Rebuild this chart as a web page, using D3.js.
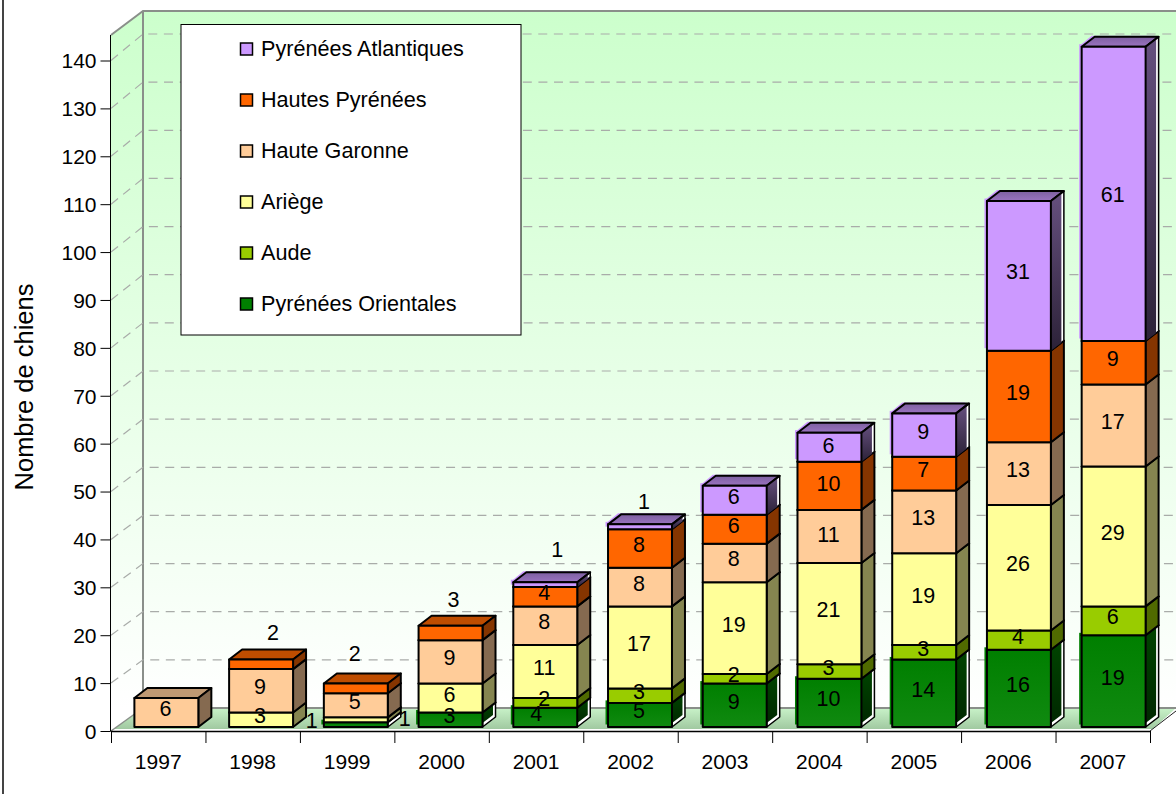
<!DOCTYPE html>
<html><head><meta charset="utf-8">
<script src="https://cdn.jsdelivr.net/npm/d3@7"></script>
<style>html,body{margin:0;padding:0;background:#fff}svg{display:block}text{font-family:"Liberation Sans",Arial,sans-serif;fill:#000}</style>
</head><body><svg id="c" width="1176" height="794"></svg>
<script>
const years = ["1997","1998","1999","2000","2001","2002","2003","2004","2005","2006","2007"];
const seriesNames = ["Pyrénées Orientales","Aude","Ariège","Haute Garonne","Hautes Pyrénées","Pyrénées Atlantiques"];
const seriesColors = ["#008000","#99cc00","#ffff99","#ffcc99","#ff6600","#cc99ff"];
const pyreneesOrientales = [0,0,1,3,4,5,9,10,14,16,19];
const aude               = [0,0,0,0,2,3,2,3,3,4,6];
const ariege             = [0,3,1,6,11,17,19,21,19,26,29];
const hauteGaronne       = [6,9,5,9,8,8,8,11,13,13,17];
const hautesPyrenees     = [0,2,2,3,4,8,6,10,7,19,9];
const pyreneesAtlantiques= [0,0,0,0,1,1,6,6,9,31,61];
const seriesValues = [pyreneesOrientales,aude,ariege,hauteGaronne,hautesPyrenees,pyreneesAtlantiques];
const yTicks = d3.range(0,141,10);
// manual displacement of data labels: [year, series index, dx, dy]
const labelNudges = [["1998",4,13,-28],["1999",0,-43,0],["1999",2,50,3],["1999",4,0,-31],["2000",4,4,-29],
 ["2001",0,-8,0],["2001",5,13,-31],["2002",5,5,-21],["2007",5,0,5],["2004",3,0,2],["2004",4,0,2],["2004",5,0,2]];

const svg = d3.select("#c");
const defs = svg.append("defs");
function grad(id,x1,y1,x2,y2,stops,units){
  const g=defs.append("linearGradient").attr("id",id).attr("x1",x1).attr("y1",y1).attr("x2",x2).attr("y2",y2);
  if(units)g.attr("gradientUnits",units);
  stops.forEach(s=>g.append("stop").attr("offset",s[0]).attr("stop-color",s[1]));
}
grad("wall",0,11,0,708,[[0,"#ccffcc"],[1,"#ffffff"]],"userSpaceOnUse");
grad("floor",0,0,0,1,[[0,"#c8f2c8"],[1,"#9dc59d"]]);
grad("sidePA",0,0,0,1,[[0,"#66507f"],[1,"#2c2238"]]);
grad("topPA",0,0,0,1,[[0,"#7d60a0"],[1,"#9a73c0"]]);
grad("sidePO",0,0,0,1,[[0,"#004400"],[1,"#002800"]]);
grad("frontPO",0,0,0,1,[[0,"#007f00"],[1,"#108a10"]]);

const yAxisScale = d3.scaleLinear().domain([0,140]).range([731,60.5]);
const yBack = d3.scaleLinear().domain([0,140]).range([708,34]);
const yBar = d3.scaleLinear().domain([0,140]).range([727,51.5]);
const x = d3.scaleBand().domain(years).range([111,1150]);
const xBar = d3.scaleBand().domain(years).range([111,1153]).paddingInner(0.325).paddingOuter(0.1625);
const bw = xBar.bandwidth(), barShift = 8, dX = 13, dY = -10;
const line = d3.line();

// walls and floor
svg.append("path").attr("d",line([[111,35],[143,11],[1180,11],[1180,708],[143,708],[111,731]]))
  .attr("fill","url(#wall)");
svg.append("path").attr("d",line([[111,731],[143,708],[1180,708],[1176,708],[1153,729],[114,729]]))
  .attr("fill","url(#floor)");
svg.append("path").attr("d",line([[111,35],[143,11],[1176,11]])).attr("fill","none").attr("stroke","#8a8f8a").attr("stroke-width",2);
svg.append("path").attr("d",line([[143,11],[143,708],[1176,708]])).attr("fill","none").attr("stroke","#8a8f8a").attr("stroke-width",2);
svg.append("path").attr("d",line([[111,731],[143,708]])).attr("fill","none").attr("stroke","#8a8f8a").attr("stroke-width",1.5);
svg.append("path").attr("d",line([[1150,731],[1176,711]])).attr("fill","none").attr("stroke","#222").attr("stroke-width",1);

// gridlines
const gridVals = yTicks.filter(v=>v>0);
svg.append("g").selectAll("path").data(gridVals).join("path")
  .attr("d",v=>line([[111,yAxisScale(v)],[143,yBack(v)],[1176,yBack(v)]]))
  .attr("fill","none").attr("stroke","#a9aca9").attr("stroke-width",1.2).attr("stroke-dasharray","9 6.6");

// outer frame line
svg.append("line").attr("x1",3).attr("x2",3).attr("y1",0).attr("y2",794).attr("stroke","#444").attr("stroke-width",2);

// axes
const axL = svg.append("g").attr("transform","translate(110.5,0)")
  .call(d3.axisLeft(yAxisScale).tickValues(yTicks).tickSize(10).tickPadding(4).tickSizeOuter(0));
axL.select(".domain").attr("d",line([[0,yAxisScale(0)+0.5],[0,35]])).attr("stroke","#000");
axL.selectAll("text").style("font-size","21px").attr("dy","0.35em");
const axB = svg.append("g").attr("transform","translate(0,731.5)")
  .call(d3.axisBottom(x).tickSize(0).tickPadding(26));
axB.select(".domain").attr("d",line([[111,0],[1150,0]])).attr("stroke","#000").attr("stroke-width",1.4);
axB.selectAll("text").style("font-size","21px").attr("dy","0.55em");
const tickX = d3.scaleLinear().domain([0,years.length]).range([111,1150]);
svg.append("g").selectAll("line").data(d3.range(years.length+1)).join("line")
  .attr("x1",i=>tickX(i)+0.5).attr("x2",i=>tickX(i)+0.5)
  .attr("y1",731).attr("y2",743).attr("stroke","#000").attr("stroke-width",1);
svg.append("text").attr("transform","translate(24,387) rotate(-90)").attr("text-anchor","middle")
  .attr("dy","0.35em").style("font-size","25.5px").text("Nombre de chiens");

// legend
const lg = svg.append("g");
lg.append("rect").attr("x",181).attr("y",24.5).attr("width",340).attr("height",310.5).attr("fill","#fff").attr("stroke","#000").attr("stroke-width",1);
const legendY = d3.scalePoint().domain(d3.range(6)).range([49,304]);
const li = lg.selectAll("g").data(seriesNames.map((n,i)=>i).reverse()).join("g")
  .attr("transform",(s,i)=>`translate(0,${legendY(i)})`);
li.append("rect").attr("x",240.5).attr("y",-6).attr("width",12).attr("height",12)
  .attr("fill",s=>seriesColors[s]).attr("stroke","#000").attr("stroke-width",1.5);
li.append("text").attr("x",261).attr("y",6.5).style("font-size","21.6px").text(s=>seriesNames[s]);

// bars
const shade=(c,k)=>{const r=d3.rgb(c);return d3.rgb(r.r*k,r.g*k,r.b*k).formatHex();};
const marks = [];
years.forEach((yr,i)=>{
  let acc=0;
  seriesValues.forEach((vals,s)=>{
    const v=vals[i]; if(!v)return;
    marks.push({yr,s,v,base:acc,top:acc+v}); acc+=v;
  });
});
const barG = svg.append("g").selectAll("g").data(marks).join("g")
  .attr("stroke-linejoin","round");
barG.each(function(d){
  const g=d3.select(this), c=seriesColors[d.s];
  const x0=xBar(d.yr)+barShift, x1=x0+bw, y0=yBar(d.base), y1=yBar(d.top);
  const isPO=d.s===0, isPA=d.s===5;
  if(isPO||isPA){ // offset coloured sliver on the left of the gradient faces
    g.append("rect").attr("x",x0-2.5).attr("y",y1-2.5).attr("width",5).attr("height",y0-y1).attr("fill",c);
  }
  if(isPA){
    g.append("path").attr("d",line([[x0-2,y1-1],[x0+dX-3,y1+dY-1],[x1+dX-4,y1+dY-1],[x1,y1]])).attr("fill",c);
  }
  const side=[[x1,y0],[x1+dX,y0+dY],[x1+dX,y1+dY],[x1,y1]];
  const topF=[[x0,y1],[x0+dX,y1+dY],[x1+dX,y1+dY],[x1,y1]];
  g.append("path").attr("d",line(topF)+"Z").attr("fill",isPA?"url(#topPA)":shade(c,0.75)).attr("stroke","#000").attr("stroke-width",2);
  if(isPO||isPA){
    g.append("path").attr("d",line(side)+"Z").attr("fill","#fff").attr("stroke","#000").attr("stroke-width",1.5);
    const low=isPO?4:0, h=2.5;
    g.append("path").attr("d",line([[x1,y0-low],[x1+dX-h,y0+dY-low+2],[x1+dX-h,y1+dY+1],[x1,y1]])+"Z")
      .attr("fill",isPA?"url(#sidePA)":"url(#sidePO)");
    g.append("path").attr("d",line([[x1,y1],[x1+dX,y1+dY]])).attr("stroke","#000").attr("stroke-width",2).attr("fill","none");
  } else {
    g.append("path").attr("d",line(side)+"Z").attr("fill",shade(c,0.52)).attr("stroke","#000").attr("stroke-width",2);
  }
  g.append("rect").attr("x",x0).attr("y",y1).attr("width",bw).attr("height",y0-y1)
    .attr("fill",isPO?"url(#frontPO)":c).attr("stroke","#000").attr("stroke-width",2);
});

// data labels
const nudge=(d)=>labelNudges.find(n=>n[0]===d.yr&&n[1]===d.s)||[0,0,0,0];
svg.append("g").selectAll("text").data(marks).join("text")
  .attr("text-anchor","middle").attr("dy","0.35em").style("font-size","21.5px")
  .attr("x",d=>xBar(d.yr)+barShift+bw/2-1+nudge(d)[2])
  .attr("y",d=>yBar((d.base+d.top)/2)-4+nudge(d)[3])
  .text(d=>d.v);
</script></body></html>
